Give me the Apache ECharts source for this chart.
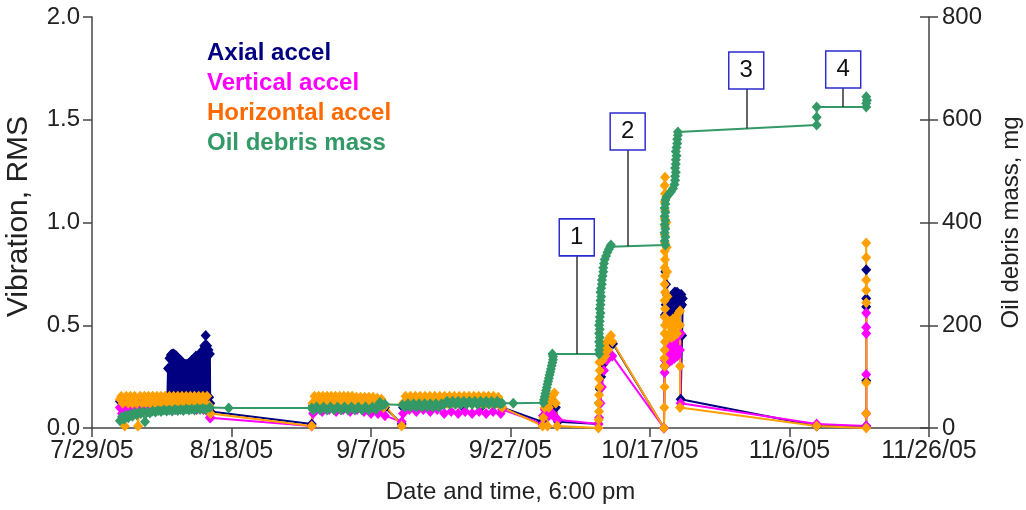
<!DOCTYPE html>
<html>
<head>
<meta charset="utf-8">
<script src="https://cdn.jsdelivr.net/npm/echarts@6/dist/echarts.min.js"></script>
<style>
html,body{margin:0;padding:0;background:#fff;}
#chart{width:1026px;height:510px;}
</style>
</head>
<body>
<div id="chart"></div>
<script>
// x values: days since 7/29/05 6:00 pm
const xTickLabels = ['7/29/05','8/18/05','9/7/05','9/27/05','10/17/05','11/6/05','11/26/05'];

const axialData = [
 [4.0,0.13],[5.0,0.13],[6.0,0.12],[7.0,0.13],[8.0,0.13],[9.0,0.12],[10.0,0.13],[10.8,0.14],
 [10.9,0.29],[11.0,0.15],[11.1,0.34],[11.2,0.15],[11.3,0.355],[11.4,0.15],[11.5,0.36],[11.6,0.15],
 [11.7,0.36],[11.8,0.15],[11.9,0.355],[12.0,0.15],[12.1,0.35],[12.2,0.15],[12.3,0.34],[12.4,0.15],
 [12.5,0.335],[12.6,0.15],[12.7,0.33],[12.8,0.15],[12.9,0.32],[13.0,0.15],[13.1,0.315],[13.2,0.15],
 [13.3,0.31],[13.4,0.15],[13.5,0.31],[13.6,0.15],[13.7,0.31],[13.8,0.15],[13.9,0.315],[14.0,0.15],
 [14.1,0.32],[14.2,0.15],[14.3,0.33],[14.4,0.15],[14.5,0.335],[14.6,0.15],[14.7,0.34],[14.8,0.15],
 [14.9,0.35],[15.0,0.15],[15.1,0.35],[15.2,0.15],[15.3,0.355],[15.4,0.15],[15.5,0.36],[15.6,0.15],
 [15.7,0.37],[15.8,0.15],[15.9,0.38],[16.0,0.15],[16.1,0.40],[16.2,0.15],[16.3,0.45],[16.4,0.15],
 [16.5,0.40],[16.6,0.15],[16.7,0.38],[16.8,0.15],[16.9,0.36],[16.95,0.12],[17.0,0.08],
 [31.5,0.02],[31.7,0.11],[33,0.12],[35,0.12],[37,0.12],[39,0.12],[41,0.12],[42.0,0.10],[44.4,0.02],
 [44.6,0.10],[47,0.11],[50,0.11],[53,0.11],[56,0.11],[58.8,0.10],
 [64.6,0.03],[64.7,0.06],[65.0,0.10],[65.5,0.12],[66.0,0.13],[66.5,0.10],[66.8,0.03],[72.6,0.02],
 [72.7,0.12],[72.8,0.19],[73.0,0.25],[73.3,0.31],[73.7,0.36],[74.1,0.40],[74.5,0.42],[74.7,0.41],
 [82.0,0.0],[82.1,0.30],[82.15,0.55],[82.2,0.76],[82.25,0.60],[82.3,0.70],[82.35,0.56],[82.4,0.65],[82.5,0.52],
 [82.9,0.62],[83.0,0.55],[83.1,0.64],[83.2,0.56],[83.3,0.65],[83.4,0.56],[83.5,0.66],[83.6,0.57],[83.7,0.66],
 [83.8,0.58],[83.9,0.66],[84.0,0.58],[84.1,0.65],[84.2,0.58],[84.3,0.65],[84.4,0.59],[84.5,0.65],[84.6,0.60],
 [84.7,0.63],[84.6,0.45],[84.4,0.14],
 [103.9,0.01],[111.0,0.01],[111.0,0.23],[111.0,0.59],[111.0,0.63],[111.0,0.77]
];

const verticalData = [
 [4.0,0.10],[4.3,0.07],[4.6,0.10],[5.0,0.08],[5.5,0.10],[6.0,0.09],[7,0.09],[8,0.10],[9,0.09],[10,0.09],
 [11,0.10],[12,0.09],[13,0.09],[14,0.10],[15,0.09],[16,0.09],[16.6,0.08],[16.9,0.05],[17.0,0.05],
 [31.5,0.01],[31.7,0.07],[32.2,0.09],[33,0.08],[34,0.09],[35,0.08],[36,0.09],[37,0.08],[38,0.09],[39,0.08],
 [40,0.07],[41,0.07],[41.5,0.09],[42.0,0.06],[44.4,0.03],
 [44.6,0.07],[45.5,0.09],[46.5,0.08],[47.5,0.09],[48.5,0.08],[49.5,0.09],[50.5,0.07],[51.5,0.08],[52.5,0.07],
 [53.5,0.08],[54.5,0.07],[55.5,0.08],[56.5,0.07],[57.5,0.08],[58.6,0.07],[58.8,0.09],
 [64.6,0.02],[64.7,0.06],[64.9,0.09],[65.2,0.08],[65.5,0.06],[66.0,0.07],[66.4,0.05],[66.8,0.04],[72.6,0.02],
 [72.7,0.05],[72.9,0.12],[73.1,0.20],[73.4,0.28],[73.8,0.33],[74.3,0.36],[74.6,0.35],
 [82.0,0.0],[82.1,0.27],[82.15,0.33],[82.3,0.31],[82.5,0.38],[82.7,0.32],[82.9,0.41],[83.1,0.33],[83.3,0.43],
 [83.5,0.34],[83.7,0.44],[83.9,0.35],[84.1,0.45],[84.3,0.38],[84.4,0.46],[84.4,0.12],
 [103.9,0.02],[111.0,0.01],[111.0,0.07],[111.0,0.26],[111.0,0.46],[111.0,0.49],[111.0,0.56]
];

const horizontalData = [
 [4.0,0.14],[4.2,0.155],[4.4,0.12],[4.7,0.01],[4.9,0.155],[5.2,0.12],[5.5,0.155],[5.8,0.12],[6.1,0.155],
 [6.4,0.12],[6.6,0.01],[6.9,0.155],[7.2,0.12],[7.5,0.155],[7.8,0.12],[8.1,0.155],[8.4,0.12],[8.7,0.155],
 [9.0,0.12],[9.3,0.155],[9.6,0.12],[9.9,0.155],[10.2,0.12],[10.5,0.155],[10.8,0.12],[11.1,0.155],[11.4,0.12],
 [11.7,0.155],[12.0,0.12],[12.3,0.155],[12.6,0.12],[12.9,0.155],[13.2,0.12],[13.5,0.155],[13.8,0.12],
 [14.1,0.155],[14.4,0.12],[14.7,0.155],[15.0,0.12],[15.3,0.155],[15.6,0.12],[15.9,0.155],[16.2,0.12],
 [16.5,0.155],[16.8,0.11],[17.0,0.07],
 [31.5,0.01],[31.6,0.12],[31.9,0.155],[32.2,0.12],[32.5,0.155],[32.8,0.12],[33.1,0.155],[33.4,0.12],
 [33.7,0.155],[34.0,0.12],[34.3,0.155],[34.6,0.12],[34.9,0.155],[35.2,0.12],[35.5,0.155],[35.8,0.12],
 [36.1,0.155],[36.4,0.12],[36.7,0.155],[37.0,0.12],[37.3,0.155],[37.6,0.12],[37.9,0.15],[38.2,0.12],
 [38.5,0.15],[38.8,0.12],[39.1,0.15],[39.4,0.12],[39.7,0.15],[40.0,0.12],[40.3,0.15],[40.6,0.12],
 [40.9,0.145],[41.2,0.11],[41.5,0.14],[41.8,0.10],[42.0,0.11],[44.4,0.01],
 [44.6,0.12],[44.95,0.155],[45.3,0.12],[45.65,0.155],[46.0,0.12],[46.35,0.155],[46.7,0.12],[47.05,0.155],
 [47.4,0.12],[47.75,0.155],[48.1,0.12],[48.45,0.155],[48.8,0.12],[49.15,0.155],[49.5,0.12],[49.85,0.155],
 [50.2,0.12],[50.55,0.155],[50.9,0.12],[51.25,0.155],[51.6,0.12],[51.95,0.155],[52.3,0.12],[52.65,0.155],
 [53.0,0.12],[53.35,0.155],[53.7,0.12],[54.05,0.155],[54.4,0.12],[54.75,0.155],[55.1,0.12],[55.45,0.155],
 [55.8,0.12],[56.15,0.155],[56.5,0.12],[56.85,0.155],[57.2,0.12],[57.55,0.155],[57.9,0.12],[58.25,0.15],
 [58.6,0.12],[58.8,0.10],
 [64.6,0.01],[64.7,0.05],[64.9,0.10],[65.1,0.15],[65.3,0.01],[65.5,0.10],[65.8,0.13],[66.1,0.16],[66.3,0.17],
 [66.5,0.12],[66.7,0.01],[72.6,0.0],
 [72.65,0.04],[72.7,0.08],[72.65,0.12],[72.7,0.16],[72.75,0.20],[72.7,0.24],[72.8,0.28],[72.75,0.32],
 [72.85,0.36],[73.0,0.38],[73.2,0.33],[73.4,0.40],[73.6,0.35],[73.8,0.42],[74.0,0.38],[74.2,0.44],
 [74.4,0.45],[74.6,0.42],
 [82.0,0.0],[82.05,0.10],[82.1,0.20],[82.1,0.30],[82.05,0.34],[82.1,0.38],[82.15,0.42],[82.1,0.46],
 [82.15,0.50],[82.1,0.54],[82.15,0.58],[82.1,0.62],[82.15,0.66],[82.1,0.70],[82.15,0.74],[82.1,0.78],
 [82.15,0.82],[82.1,0.86],[82.15,0.90],[82.1,0.94],[82.15,0.98],[82.1,1.02],[82.15,1.06],[82.1,1.10],
 [82.15,1.14],[82.1,1.18],[82.15,1.22],[82.3,1.12],[82.35,1.00],[82.4,0.88],[82.45,0.76],[82.5,0.64],
 [82.55,0.52],[82.7,0.45],[82.9,0.52],[83.1,0.44],[83.3,0.53],[83.5,0.45],[83.7,0.54],[83.9,0.46],
 [84.1,0.56],[84.3,0.57],[84.3,0.50],[84.3,0.30],[84.3,0.10],
 [103.9,0.01],[111.0,0.0],[111.0,0.07],[111.0,0.22],[111.0,0.61],[111.0,0.67],[111.0,0.72],[111.0,0.83],[111.0,0.90]
];

// Oil debris mass, mg (right axis)
const oilData = [
 [4.0,14],[4.3,22],[4.6,17],[4.9,25],[5.2,20],[5.5,27],[5.8,23],[6.1,29],[6.4,26],[6.7,30],[7.0,28],[7.3,31],
 [7.6,12],[7.9,31],[8.3,29],[8.7,33],[9.1,31],[9.5,34],[9.9,32],[10.3,35],[10.7,33],[11.1,35],[11.5,33],
 [11.9,36],[12.3,34],[12.7,36],[13.1,34],[13.5,37],[13.9,35],[14.3,37],[14.7,35],[15.1,38],[15.5,36],
 [15.9,38],[16.3,36],[16.9,40],[19.6,39],
 [31.5,39],[31.7,35],[32.2,41],[32.7,35],[33.2,41],[33.7,35],[34.2,41],[34.7,35],[35.2,41],[35.7,35],
 [36.2,41],[36.7,35],[37.2,41],[37.7,35],[38.2,41],[38.7,35],[39.2,41],[39.7,35],[40.2,41],[40.7,36],
 [41.0,44],[41.3,50],[41.6,44],[42.0,46],
 [44.5,45],[44.9,41],[45.3,47],[45.7,41],[46.1,47],[46.5,41],[46.9,47],[47.3,41],[47.7,47],[48.1,41],
 [48.5,47],[48.9,41],[49.3,47],[49.7,41],[50.1,47],[50.5,46],[50.9,52],[51.3,46],[51.7,52],[52.1,46],
 [52.5,52],[52.9,46],[53.3,52],[53.7,46],[54.1,52],[54.5,46],[54.9,52],[55.3,46],[55.7,52],[56.1,46],
 [56.5,52],[56.9,46],[57.3,52],[57.7,46],[58.1,52],[58.5,47],[58.8,48],[60.4,48],
 [64.7,49],[64.8,55],[64.9,61],[65.0,67],[65.1,73],[65.2,79],[65.3,85],[65.4,91],[65.5,97],[65.6,103],
 [65.7,109],[65.8,115],[65.9,121],[66.0,127],[66.1,133],[66.1,139],[66.0,144],
 [72.7,144],[72.7,152],[72.8,160],[72.7,168],[72.8,176],[72.7,184],[72.8,192],[72.7,200],[72.8,208],
 [72.8,216],[72.9,224],[72.8,232],[72.9,240],[72.9,248],[73.0,256],[72.9,264],[73.0,272],[73.1,280],
 [73.1,288],[73.2,296],[73.3,304],[73.3,312],[73.4,320],[73.5,328],[73.7,335],[73.9,342],[74.1,348],
 [74.3,353],[74.4,356],
 [82.2,356],[82.1,364],[82.2,372],[82.1,380],[82.2,388],[82.1,396],[82.2,404],[82.1,412],[82.2,420],
 [82.1,428],[82.2,436],[82.2,444],[82.4,450],[82.7,455],[83.0,460],[83.3,466],[83.5,474],[83.6,482],
 [83.6,490],[83.7,498],[83.6,506],[83.7,514],[83.7,522],[83.8,530],[83.7,538],[83.8,546],[83.9,554],
 [83.9,562],[84.0,570],[84.0,576],
 [103.9,590],[103.9,605],[103.9,625],[111.0,625],[111.0,632],[111.1,638],[111.0,645]
];

// Numbered callouts (anchored on the oil debris curve)
const annoLabels = ['1','2','3','4'];
const annoDays = [69.5, 76.8, 93.8, 107.7];
const annoBase = [144, 354, 583, 625];
const annoTop = [335, 541, 660, 662];

const FONT = 'Liberation Sans, Arial, Helvetica, sans-serif';
const chart = echarts.init(document.getElementById('chart'), null, {renderer:'canvas'});

const axisLineStyle = {color:'#444', width:1.5};

function mkSeries(name, data, color, yIdx, extra){
  return Object.assign({
    name: name, type:'line', data: data, yAxisIndex: yIdx,
    symbol:'diamond', symbolSize:[10,11], showAllSymbol:true, sampling:null,
    itemStyle:{color: color}, lineStyle:{color: color, width:2},
    emphasis:{disabled:true}, silent:true, animation:false
  }, extra || {});
}

const markPointData = annoLabels.map((l,i)=>({name:l, coord:[annoDays[i], annoTop[i]], value:l}));
const markLineData = annoLabels.map((l,i)=>[{coord:[annoDays[i], annoBase[i]]},{coord:[annoDays[i], annoTop[i]]}]);

const option = {
  animation:false,
  backgroundColor:'#fff',
  grid:{left:92, right:97, top:17, bottom:82, outerBoundsMode:'none'},
  legend:{
    orient:'vertical', left:197, top:36, itemWidth:0, itemHeight:24, itemGap:6,
    icon:'rect', selectedMode:false,
    itemStyle:{color:'rgba(0,0,0,0)', borderWidth:0},
    lineStyle:{width:0, opacity:0},
    textStyle:{fontSize:24, lineHeight:24, fontWeight:'bold', fontFamily:FONT, padding:0},
    data:[
      {name:'Axial accel', textStyle:{color:'#000080'}},
      {name:'Vertical accel', textStyle:{color:'#FF00FF'}},
      {name:'Horizontal accel', textStyle:{color:'#FF6A00'}},
      {name:'Oil debris mass', textStyle:{color:'#339966'}}
    ]
  },
  xAxis:{
    type:'value', min:0, max:120, interval:20,
    name:'Date and time, 6:00 pm', nameLocation:'middle', nameGap:52,
    nameTextStyle:{fontSize:24, color:'#222', fontFamily:FONT},
    axisLine:{show:true, lineStyle:axisLineStyle},
    axisTick:{show:true, length:9, lineStyle:axisLineStyle},
    axisLabel:{fontSize:25, color:'#222', fontFamily:FONT, margin:11,
      formatter:function(v){ return xTickLabels[Math.round(v/20)] || ''; }},
    splitLine:{show:false}
  },
  yAxis:[
    {
      type:'value', min:0, max:2, interval:0.5, position:'left',
      name:'Vibration, RMS', nameLocation:'middle', nameGap:58,
      nameTextStyle:{fontSize:30, color:'#222', fontFamily:FONT, padding:[0,0,0,12]},
      axisLine:{show:true, lineStyle:axisLineStyle},
      axisTick:{show:true, length:9, lineStyle:axisLineStyle},
      axisLabel:{fontSize:24, color:'#222', fontFamily:FONT, margin:12,
        formatter:function(v){ return v.toFixed(1); }},
      splitLine:{show:false}
    },
    {
      type:'value', min:0, max:800, interval:200, position:'right',
      name:'Oil debris mass, mg', nameLocation:'middle', nameGap:70,
      nameTextStyle:{fontSize:24, color:'#222', fontFamily:FONT},
      axisLine:{show:true, lineStyle:axisLineStyle},
      axisTick:{show:true, length:9, lineStyle:axisLineStyle},
      axisLabel:{fontSize:24, color:'#222', fontFamily:FONT, margin:13},
      splitLine:{show:false}
    },
    {
      type:'value', min:0, max:800, interval:200, position:'right',
      axisLine:{show:false}, axisTick:{show:true, inside:true, length:9, lineStyle:axisLineStyle},
      axisLabel:{show:false}, splitLine:{show:false}
    }
  ],
  series:[
    mkSeries('Axial accel', axialData, '#000080', 0),
    mkSeries('Vertical accel', verticalData, '#FF00FF', 0),
    mkSeries('Horizontal accel', horizontalData, '#FFA000', 0),
    mkSeries('Oil debris mass', oilData, '#339966', 1, {
      markLine:{
        silent:true, symbol:['none','none'], animation:false,
        lineStyle:{color:'#333', width:1.5, type:'solid'},
        label:{show:false}, emphasis:{disabled:true},
        data: markLineData
      },
      markPoint:{
        silent:true, animation:false,
        symbol:'rect', symbolSize:[35,37], symbolOffset:[0,'-50%'],
        itemStyle:{color:'#fff', borderColor:'#2B2BD0', borderWidth:1.5},
        label:{show:true, position:'inside', color:'#111', fontSize:24, fontFamily:FONT,
          formatter:function(p){ return p.name; }},
        emphasis:{disabled:true},
        data: markPointData
      }
    })
  ]
};
chart.setOption(option);
</script>
</body>
</html>
